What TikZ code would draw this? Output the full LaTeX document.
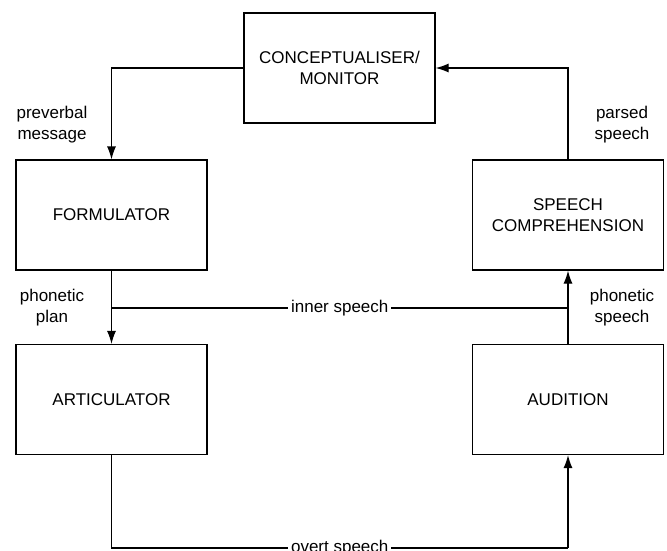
\documentclass[tikz,border=0pt]{standalone}
\usepackage{fontspec}
\setmainfont{Liberation Sans}
\usetikzlibrary{arrows.meta,positioning}

\begin{document}
\begin{tikzpicture}[x=1pt, y=-1pt, line width=1.2pt,
  box/.style={draw, minimum width=191pt, minimum height=110pt, align=center, inner sep=0pt},
  arr/.style={-{Latex[length=13pt, width=9pt]}},
  lbl/.style={align=center},
  gap/.style={fill=white, inner xsep=3pt, inner ysep=1pt}]

  \useasboundingbox (0,0) rectangle (667,550);
  \fontsize{17}{20.5}\selectfont

  \newcommand\XL{111.5}
  \newcommand\XR{568}

  \node[box] (concept) at (339.5, 68) {CONCEPTUALISER/\\MONITOR};
  \node[box] (formul) at (\XL, 215) {FORMULATOR};
  \node[box] (compr) at (\XR, 215) {SPEECH\\COMPREHENSION};
  \node[box] (artic) at (\XL, 399.5) {ARTICULATOR};
  \node[box] (audit) at (\XR, 399.5) {AUDITION};

  \coordinate (innerL) at (\XL, 308);
  \coordinate (innerR) at (\XR, 308);
  \coordinate (overtL) at (\XL, 548);
  \coordinate (overtR) at (\XR, 548);

  \draw[arr] (concept.west) -| (formul.north); %% concept->formul
  \draw[arr] (compr.north) |- (concept.east); %% compr->concept
  \draw[arr] (formul.south) -- (artic.north); %% formul->artic
  \draw[arr] (audit.north) -- (compr.south); %% audit->compr
  \draw (innerL) -- node[gap]{inner speech} (innerR);
  \draw (artic.south) -- (overtL) -- node[gap]{overt speech} (overtR);
  \draw[arr] (overtR) -- (audit.south);

  \node[lbl] (preverb) at (52, 124.5) {preverbal\\message};
  \node[lbl] (parsed) at (622, 124.5) {parsed\\speech};
  \node[lbl] (phplan) at (52, 307.5) {phonetic\\plan};
  \node[lbl] (phspeech) at (622, 307.5) {phonetic\\speech};
\end{tikzpicture}
\end{document}
